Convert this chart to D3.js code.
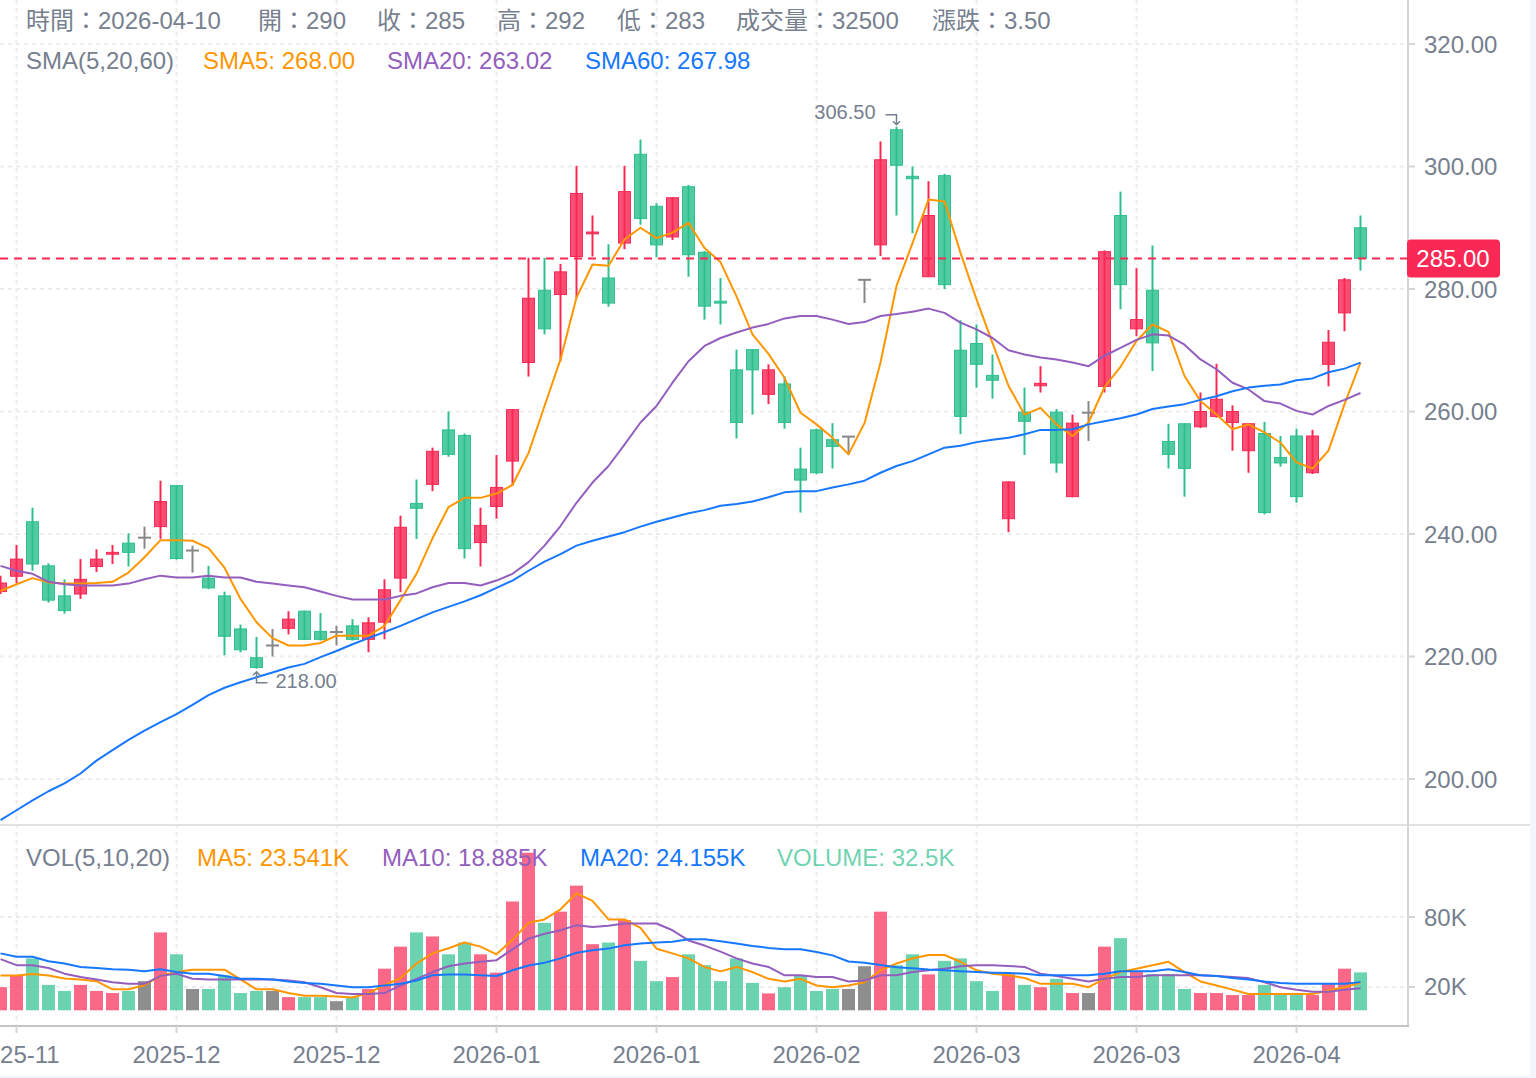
<!DOCTYPE html>
<html>
<head>
<meta charset="utf-8">
<script src="https://cdn.jsdelivr.net/npm/d3@7/dist/d3.min.js"></script>
<style>
    body { margin: 0; background: #f3f5fa; }
    #chart { position: absolute; left: 0; top: 0; width: 1530px; height: 1076px; background: #fff; overflow: hidden; }
    svg text { font-family: "Liberation Sans", Arial, "Noto Sans CJK TC", sans-serif; }
</style>
</head>
<body>
<div id="chart"></div>
<script>

// Candles (daily), last one is 2026-04-10
const opens = [230.6,233.1,242.0,234.8,229.9,230.2,234.7,236.7,238.5,239.4,
    241.2,247.9,237.3,232.8,229.9,224.5,219.8,221.8,224.6,227.4,
    224.1,224.0,225.0,222.8,225.6,232.8,245.0,248.1,257.0,256.1,
    238.6,244.5,251.9,268.0,279.8,279.1,285.3,289.0,281.8,287.5,
    302.0,293.5,288.5,296.7,286.0,278.0,266.8,270.1,262.8,264.5,
    250.6,257.0,255.4,255.9,281.5,287.2,306.0,298.4,282.0,298.5,
    270.0,271.1,265.9,242.5,259.9,264.2,259.9,246.1,259.8,264.1,
    292.0,273.5,279.8,255.1,258.0,257.5,259.2,258.2,253.6,256.4,
    252.5,256.0,250.0,267.7,276.1,290.0];
const closes = [232.0,235.9,235.1,229.2,227.5,232.6,235.9,237.0,237.0,239.4,
    245.3,236.0,237.3,231.2,223.3,221.1,218.2,221.8,226.1,222.8,
    222.8,224.0,222.8,225.5,230.9,241.1,244.2,253.5,253.0,237.6,
    241.4,247.6,260.3,278.5,273.5,282.8,295.6,289.3,277.7,295.9,
    291.5,287.2,294.9,285.6,277.2,277.7,258.2,266.8,266.8,258.2,
    248.8,250.0,254.3,255.9,281.5,301.1,300.2,298.0,292.0,280.7,
    259.2,267.7,265.1,248.5,258.4,264.6,251.6,258.1,259.8,286.1,
    280.7,275.0,271.2,253.0,250.7,260.0,262.0,260.0,258.0,243.5,
    251.6,246.1,256.0,271.3,281.5,285.0];
const highs = [233.2,238.2,244.3,235.2,232.6,235.9,237.5,238.2,240.1,241.2,
    248.7,248.0,238.1,234.8,230.6,225.2,223.2,224.5,227.4,227.5,
    227.1,225.0,226.1,226.4,232.6,243.0,248.9,254.1,260.0,256.4,
    244.3,252.9,260.4,285.1,285.1,284.1,300.1,292.0,287.3,300.1,
    304.4,294.0,295.0,297.0,286.2,281.8,270.1,270.2,267.7,265.8,
    254.1,257.2,258.1,255.9,281.5,304.1,306.5,300.0,297.6,298.8,
    274.9,274.2,269.3,248.6,263.9,267.4,260.4,259.5,261.7,286.3,
    295.9,283.4,287.1,258.0,258.1,263.1,267.8,261.0,258.1,258.3,
    256.0,257.2,257.0,273.3,281.8,292.0];
const lows = [230.2,232.0,234.0,228.8,227.0,229.4,233.8,235.1,234.7,237.6,
    239.2,235.8,233.7,231.0,220.2,220.7,218.0,220.0,223.6,222.7,
    222.6,221.8,222.6,220.7,222.8,230.5,239.2,247.0,252.6,236.0,
    234.7,242.5,247.9,265.7,272.6,268.2,278.5,285.3,277.1,286.5,
    290.5,285.2,288.0,282.0,275.0,274.2,255.6,259.5,261.2,257.2,
    243.5,249.8,250.7,252.9,277.7,285.4,292.0,289.1,282.0,280.0,
    256.3,263.9,262.1,240.3,252.9,263.1,250.0,246.0,255.2,263.1,
    276.7,272.3,266.6,250.7,246.1,257.3,259.0,253.6,250.0,243.2,
    251.0,245.1,249.8,264.1,273.1,283.0];
const volumes = [19800,29900,44500,21800,16600,21800,16600,14800,16600,25000,
    66800,48000,18300,18300,29900,14800,16600,16600,11300,11300,
    11300,7800,11300,18300,35700,54600,66800,63300,48000,58100,
    48000,32300,93300,135100,75000,84600,106900,56700,58100,77300,
    42400,25000,28500,48000,38700,25000,44500,23500,14500,19800,
    29900,16600,18300,18300,37800,84600,38700,48000,30800,42400,
    44500,25000,16600,30800,21800,19800,27000,14800,14800,54600,
    61900,32800,31100,31100,18300,14800,14800,13100,13100,21800,
    14800,13100,13100,22700,35700,32500];

// Indicator lines
const sma5 = [230.7,231.8,232.8,232.1,231.9,231.9,232.0,232.2,233.7,236.2,
    239.0,239.0,238.9,237.7,234.5,229.4,225.6,223.0,221.8,221.8,
    222.2,223.4,223.4,223.4,225.0,229.2,233.5,239.3,244.4,245.9,
    245.9,246.6,248.0,253.2,260.9,268.5,278.6,284.0,283.8,288.1,
    290.0,288.3,289.2,290.8,286.7,284.4,278.8,272.6,269.4,265.5,
    259.8,257.9,255.7,253.0,258.1,268.0,280.5,287.5,294.6,294.3,
    285.9,278.3,271.2,264.2,259.5,260.6,257.9,256.0,258.2,264.0,
    267.3,271.5,274.2,273.0,265.8,261.7,259.5,257.1,257.9,256.6,
    254.9,251.7,250.7,253.6,261.2,268.0];
const sma20 = [234.8,234.0,233.5,232.2,231.8,231.6,231.6,231.6,231.9,232.6,
    233.2,232.9,232.9,233.2,232.9,232.9,232.2,231.9,231.6,231.3,
    230.6,229.9,229.3,229.3,229.3,229.9,230.3,231.3,232.0,232.0,
    231.6,232.4,233.5,235.4,238.1,241.3,245.1,248.4,251.1,254.6,
    258.2,260.9,264.7,268.2,270.7,272.0,272.9,273.7,274.3,275.2,
    275.6,275.6,275.0,274.3,274.6,275.6,275.9,276.3,276.8,276.1,
    274.5,273.4,272.0,270.0,269.3,268.8,268.5,268.0,267.4,269.1,
    270.4,271.7,272.6,272.4,270.9,268.5,266.9,264.7,263.6,261.7,
    261.3,260.1,259.5,260.9,261.9,263.02];
const sma60 = [193.3,194.9,196.5,198.0,199.3,200.9,203.0,204.7,206.4,207.9,
    209.3,210.6,212.1,213.7,214.9,215.8,216.6,217.4,218.2,218.8,
    219.9,220.9,222.0,223.0,224.0,225.0,226.1,227.2,228.1,229.0,
    230.0,231.2,232.4,234.0,235.5,236.7,238.1,238.9,239.6,240.3,
    241.2,242.0,242.7,243.4,243.9,244.6,244.9,245.3,246.0,246.8,
    247.0,247.0,247.6,248.1,248.7,250.0,251.1,251.9,253.0,254.1,
    254.4,255.0,255.4,255.7,256.3,257.0,257.0,257.1,257.9,258.4,
    258.9,259.5,260.4,260.8,261.2,261.9,262.5,263.3,263.9,264.2,
    264.4,265.1,265.4,266.4,267.0,267.98];
const volMa5 = [29900,29900,31100,29900,27300,26500,25000,18000,18000,21500,
    29600,32800,34800,34800,34800,26500,18000,18000,14800,12400,
    12400,11900,11000,14800,21500,27700,40100,48800,53200,58100,
    54600,48000,60400,75000,77900,86600,100300,93900,77900,77900,
    70600,52800,48800,44500,37200,33400,37200,32800,27000,24700,
    27000,21300,19800,21300,24100,34300,40100,44500,47400,47400,
    41600,34300,31400,30000,27700,22700,22700,22700,19800,27000,
    32800,35700,38700,41600,32800,24700,21300,17700,14000,14000,
    14000,14000,14000,16900,19800,23541];
const volMa10 = [43900,38700,38700,36300,31400,28500,26500,24100,22700,22700,
    29600,31400,27000,26500,26500,26500,26500,26500,25600,24100,
    19800,14800,14000,14000,14800,21300,27000,32800,37800,40100,
    41600,43000,52300,61400,65700,68600,73000,71500,72400,74400,
    74400,74400,68600,59900,55500,50300,44500,40100,37200,30000,
    30000,28500,28500,24700,25600,30000,30000,32800,34300,35700,
    37800,38700,38700,38000,37200,31400,29400,27000,24700,27000,
    28500,28500,30000,30000,30000,30000,29400,28500,27600,24100,
    19800,17700,16000,16000,17700,18885];
const volMa20 = [48800,45900,45900,42100,40100,37200,36300,35200,34800,33400,
    35200,32800,31400,31400,29400,27000,27000,26500,24700,23500,
    22700,21300,19800,19800,21300,22700,25600,30000,30600,30600,
    30000,29400,34300,38400,40700,44500,49400,51400,52900,55800,
    57300,58100,58700,61000,61000,59300,57300,55200,53500,52300,
    52300,50000,47100,41800,40700,38900,37000,36100,35000,34300,
    33400,32800,32300,32000,31400,30000,30000,30000,30000,31400,
    33400,33400,33400,35200,32800,30000,29400,27600,26500,24700,
    23500,22700,22700,22700,22700,24155];

// Axes
const tickIndex = [1, 11, 21, 31, 41, 51, 61, 71, 81];
const tickLabels = ["2025-11", "2025-12", "2025-12", "2026-01", "2026-01",
    "2026-02", "2026-03", "2026-03", "2026-04"];
const priceTicks = [200, 220, 240, 260, 280, 300, 320];
const volumeTicks = [20000, 80000];
const lastDate = "2026-04-10";


class KLineVis {

    constructor(_parentElement) {
        this.parentElement = _parentElement;
        this.colors = {
            up: "#F92855", down: "#2DC08E", flat: "#888888",
            text: "#76808F", grid: "#EDEDED", axis: "#D5D5D5",
            ma: ["#FF9600", "#935EBD", "#1677FF"]
        };
        this.initVis();
    }

    initVis() {
        let vis = this;

        vis.width = 1530;
        vis.height = 1076;
        vis.plotRight = 1408;
        vis.mainBottom = 824;
        vis.volTop = 826;
        vis.volBottom = 1026;

        vis.svg = d3.select("#" + vis.parentElement).append("svg")
            .attr("width", vis.width)
            .attr("height", vis.height);

        vis.x = d3.scaleLinear().domain([0, 85]).range([0.5, 1360.5]);
        vis.y = d3.scaleLinear().domain([200, 320]).range([779, 44]);
        vis.yVol = d3.scaleLinear().domain([0, 80000]).range([1010.3, 917]);

        let defs = vis.svg.append("defs");
        defs.append("clipPath").attr("id", "clip-main")
            .append("rect").attr("x", 0).attr("y", 0)
            .attr("width", vis.plotRight).attr("height", vis.mainBottom);
        defs.append("clipPath").attr("id", "clip-vol")
            .append("rect").attr("x", 0).attr("y", vis.volTop)
            .attr("width", vis.plotRight).attr("height", vis.volBottom - vis.volTop);

        vis.wrangleData();
    }

    wrangleData() {
        let vis = this;

        vis.candles = opens.map((o, i) => ({
            i: i, open: o, close: closes[i], high: highs[i], low: lows[i], volume: volumes[i]
        }));
        vis.candles.forEach(d => {
            d.color = d.close > d.open ? vis.colors.up : (d.close < d.open ? vis.colors.down : vis.colors.flat);
        });

        vis.maLines = [sma5, sma20, sma60];
        vis.volLines = [volMa5, volMa10, volMa20];

        let last = vis.candles[vis.candles.length - 1];
        vis.last = last;
        vis.change = last.close - closes[closes.length - 2];

        vis.hiIdx = d3.maxIndex(highs);
        vis.loIdx = d3.minIndex(lows);

        vis.updateVis();
    }

    updateVis() {
        let vis = this;
        let c = vis.colors;

        // grid
        let grid = vis.svg.append("g")
            .attr("stroke", c.grid).attr("stroke-width", 2).attr("stroke-dasharray", "4,4");
        grid.selectAll(".hgrid").data(priceTicks).enter().append("line")
            .attr("x1", 0).attr("x2", vis.plotRight)
            .attr("y1", d => vis.y(d)).attr("y2", d => vis.y(d));
        grid.selectAll(".vgrid-vol").data(volumeTicks).enter().append("line")
            .attr("x1", 0).attr("x2", vis.plotRight)
            .attr("y1", d => vis.yVol(d)).attr("y2", d => vis.yVol(d));
        grid.selectAll(".vgrid").data(tickIndex).enter().append("line")
            .attr("x1", d => vis.x(d)).attr("x2", d => vis.x(d))
            .attr("y1", 0).attr("y2", vis.volBottom);

        // candles
        let main = vis.svg.append("g").attr("clip-path", "url(#clip-main)");
        let bw = 12;

        main.selectAll(".wick").data(vis.candles).enter().append("line")
            .attr("x1", d => vis.x(d.i)).attr("x2", d => vis.x(d.i))
            .attr("y1", d => vis.y(d.high)).attr("y2", d => vis.y(d.low))
            .attr("stroke", d => d.color).attr("stroke-width", 2);

        main.selectAll(".body").data(vis.candles.filter(d => d.open !== d.close)).enter().append("rect")
            .attr("x", d => vis.x(d.i) - bw / 2)
            .attr("y", d => vis.y(Math.max(d.open, d.close)))
            .attr("width", bw)
            .attr("height", d => Math.max(1, Math.abs(vis.y(d.open) - vis.y(d.close))))
            .attr("fill", d => d.color).attr("fill-opacity", 0.82)
            .attr("stroke", d => d.color).attr("stroke-width", 1);

        main.selectAll(".doji").data(vis.candles.filter(d => d.open === d.close)).enter().append("line")
            .attr("x1", d => vis.x(d.i) - bw / 2 - 0.5).attr("x2", d => vis.x(d.i) + bw / 2 + 0.5)
            .attr("y1", d => vis.y(d.close)).attr("y2", d => vis.y(d.close))
            .attr("stroke", d => d.color).attr("stroke-width", 2);

        // moving averages
        vis.maLines.forEach((arr, k) => {
            let line = d3.line().x((d, i) => vis.x(i)).y(d => vis.y(d));
            main.append("path").datum(arr)
                .attr("d", line)
                .attr("fill", "none")
                .attr("stroke", c.ma[k])
                .attr("stroke-width", 2)
                .attr("stroke-linejoin", "round");
        });

        // last price line
        main.append("line")
            .attr("x1", 0).attr("x2", vis.plotRight)
            .attr("y1", vis.y(vis.last.close)).attr("y2", vis.y(vis.last.close))
            .attr("stroke", c.up).attr("stroke-width", 2).attr("stroke-dasharray", "8,6");

        // high / low marks
        let marks = main.append("g").attr("stroke", c.text).attr("stroke-width", 1.5).attr("fill", "none");
        let hx = vis.x(vis.hiIdx), hy = vis.y(highs[vis.hiIdx]);
        marks.append("path")
            .attr("d", `M${hx - 11},${hy - 12} L${hx},${hy - 12} L${hx},${hy - 2} M${hx - 3.5},${hy - 5.5} L${hx},${hy - 2} L${hx + 3.5},${hy - 5.5}`);
        main.append("text")
            .attr("x", hx - 21).attr("y", hy - 13)
            .attr("text-anchor", "end").attr("dominant-baseline", "middle")
            .attr("font-size", 20).attr("fill", c.text)
            .text(highs[vis.hiIdx].toFixed(2));

        let lx = vis.x(vis.loIdx), ly = vis.y(lows[vis.loIdx]);
        marks.append("path")
            .attr("d", `M${lx + 11},${ly + 14} L${lx},${ly + 14} L${lx},${ly + 3} M${lx - 3.5},${ly + 6.5} L${lx},${ly + 3} L${lx + 3.5},${ly + 6.5}`);
        main.append("text")
            .attr("x", lx + 19).attr("y", ly + 14)
            .attr("dominant-baseline", "middle")
            .attr("font-size", 20).attr("fill", c.text)
            .text(lows[vis.loIdx].toFixed(2));

        // volume bars
        let volG = vis.svg.append("g").attr("clip-path", "url(#clip-vol)");
        volG.selectAll(".vol").data(vis.candles).enter().append("rect")
            .attr("x", d => vis.x(d.i) - bw / 2 - 0.5)
            .attr("y", d => vis.yVol(d.volume))
            .attr("width", bw + 1)
            .attr("height", d => vis.yVol(0) - vis.yVol(d.volume))
            .attr("fill", d => d.color)
            .attr("fill-opacity", d => d.open === d.close ? 0.95 : 0.7);

        vis.volLines.forEach((arr, k) => {
            let line = d3.line().x((d, i) => vis.x(i)).y(d => vis.yVol(d));
            volG.append("path").datum(arr)
                .attr("d", line)
                .attr("fill", "none")
                .attr("stroke", c.ma[k])
                .attr("stroke-width", 2)
                .attr("stroke-linejoin", "round");
        });

        // axes lines
        vis.svg.append("line")
            .attr("x1", 0).attr("x2", vis.width)
            .attr("y1", 825).attr("y2", 825)
            .attr("stroke", "#E2E2E2").attr("stroke-width", 2);
        vis.svg.append("line")
            .attr("x1", vis.plotRight).attr("x2", vis.plotRight)
            .attr("y1", 0).attr("y2", vis.volBottom + 1)
            .attr("stroke", c.axis).attr("stroke-width", 2);
        vis.svg.append("line")
            .attr("x1", 0).attr("x2", vis.plotRight + 1)
            .attr("y1", vis.volBottom).attr("y2", vis.volBottom)
            .attr("stroke", "#C4C4C8").attr("stroke-width", 2);

        // price axis
        let yAxisG = vis.svg.append("g");
        yAxisG.selectAll(".ptick").data(priceTicks).enter().append("line")
            .attr("x1", vis.plotRight).attr("x2", vis.plotRight + 7)
            .attr("y1", d => vis.y(d)).attr("y2", d => vis.y(d))
            .attr("stroke", c.axis).attr("stroke-width", 2);
        yAxisG.selectAll(".plabel").data(priceTicks).enter().append("text")
            .attr("x", vis.plotRight + 16).attr("y", d => vis.y(d))
            .attr("dominant-baseline", "central")
            .attr("font-size", 24).attr("fill", c.text)
            .text(d => d.toFixed(2));

        yAxisG.selectAll(".vtick").data(volumeTicks).enter().append("line")
            .attr("x1", vis.plotRight).attr("x2", vis.plotRight + 7)
            .attr("y1", d => vis.yVol(d)).attr("y2", d => vis.yVol(d))
            .attr("stroke", c.axis).attr("stroke-width", 2);
        yAxisG.selectAll(".vlabel").data(volumeTicks).enter().append("text")
            .attr("x", vis.plotRight + 16).attr("y", d => vis.yVol(d))
            .attr("dominant-baseline", "central")
            .attr("font-size", 24).attr("fill", c.text)
            .text(d => (d / 1000) + "K");

        // last price tag
        let ly0 = vis.y(vis.last.close);
        yAxisG.append("rect")
            .attr("x", vis.plotRight - 1).attr("y", ly0 - 19)
            .attr("width", 93).attr("height", 38).attr("rx", 4)
            .attr("fill", c.up);
        yAxisG.append("text")
            .attr("x", vis.plotRight + 45).attr("y", ly0)
            .attr("text-anchor", "middle").attr("dominant-baseline", "central")
            .attr("font-size", 24).attr("fill", "#fff")
            .text(vis.last.close.toFixed(2));

        // time axis
        let xAxisG = vis.svg.append("g");
        xAxisG.selectAll(".xtick").data(tickIndex).enter().append("line")
            .attr("x1", d => vis.x(d)).attr("x2", d => vis.x(d))
            .attr("y1", vis.volBottom).attr("y2", vis.volBottom + 7)
            .attr("stroke", c.axis).attr("stroke-width", 2);
        xAxisG.selectAll(".xlabel").data(tickIndex).enter().append("text")
            .attr("x", d => vis.x(d)).attr("y", 1054)
            .attr("text-anchor", "middle").attr("dominant-baseline", "central")
            .attr("font-size", 24).attr("fill", c.text)
            .text((d, k) => tickLabels[k]);

        // legends
        let last = vis.last;
        let row1 = [
            {x: 26, t: "時間：" + lastDate},
            {x: 258, t: "開：" + last.open},
            {x: 377, t: "收：" + last.close},
            {x: 497, t: "高：" + last.high},
            {x: 617, t: "低：" + last.low},
            {x: 736, t: "成交量：" + last.volume},
            {x: 932, t: "漲跌：" + vis.change.toFixed(2)}
        ];
        let row2 = [
            {x: 26, t: "SMA(5,20,60)", col: c.text},
            {x: 203, t: "SMA5: " + sma5[85].toFixed(2), col: c.ma[0]},
            {x: 387, t: "SMA20: " + sma20[85].toFixed(2), col: c.ma[1]},
            {x: 585, t: "SMA60: " + sma60[85].toFixed(2), col: c.ma[2]}
        ];
        let row3 = [
            {x: 26, t: "VOL(5,10,20)", col: c.text},
            {x: 197, t: "MA5: " + (volMa5[85] / 1000).toFixed(3) + "K", col: c.ma[0]},
            {x: 382, t: "MA10: " + (volMa10[85] / 1000).toFixed(3) + "K", col: c.ma[1]},
            {x: 580, t: "MA20: " + (volMa20[85] / 1000).toFixed(3) + "K", col: c.ma[2]},
            {x: 777, t: "VOLUME: " + (last.volume / 1000) + "K", col: "rgba(45,192,142,0.7)"}
        ];

        let legend = vis.svg.append("g").attr("font-size", 24);
        legend.selectAll(".r1").data(row1).enter().append("text")
            .attr("x", d => d.x).attr("y", 20).attr("dominant-baseline", "central")
            .attr("fill", c.text).text(d => d.t);
        legend.selectAll(".r2").data(row2).enter().append("text")
            .attr("x", d => d.x).attr("y", 60).attr("dominant-baseline", "central")
            .attr("fill", d => d.col).text(d => d.t);
        legend.selectAll(".r3").data(row3).enter().append("text")
            .attr("x", d => d.x).attr("y", 857).attr("dominant-baseline", "central")
            .attr("fill", d => d.col).text(d => d.t);
    }
}

new KLineVis("chart");
</script>
</body>
</html>
